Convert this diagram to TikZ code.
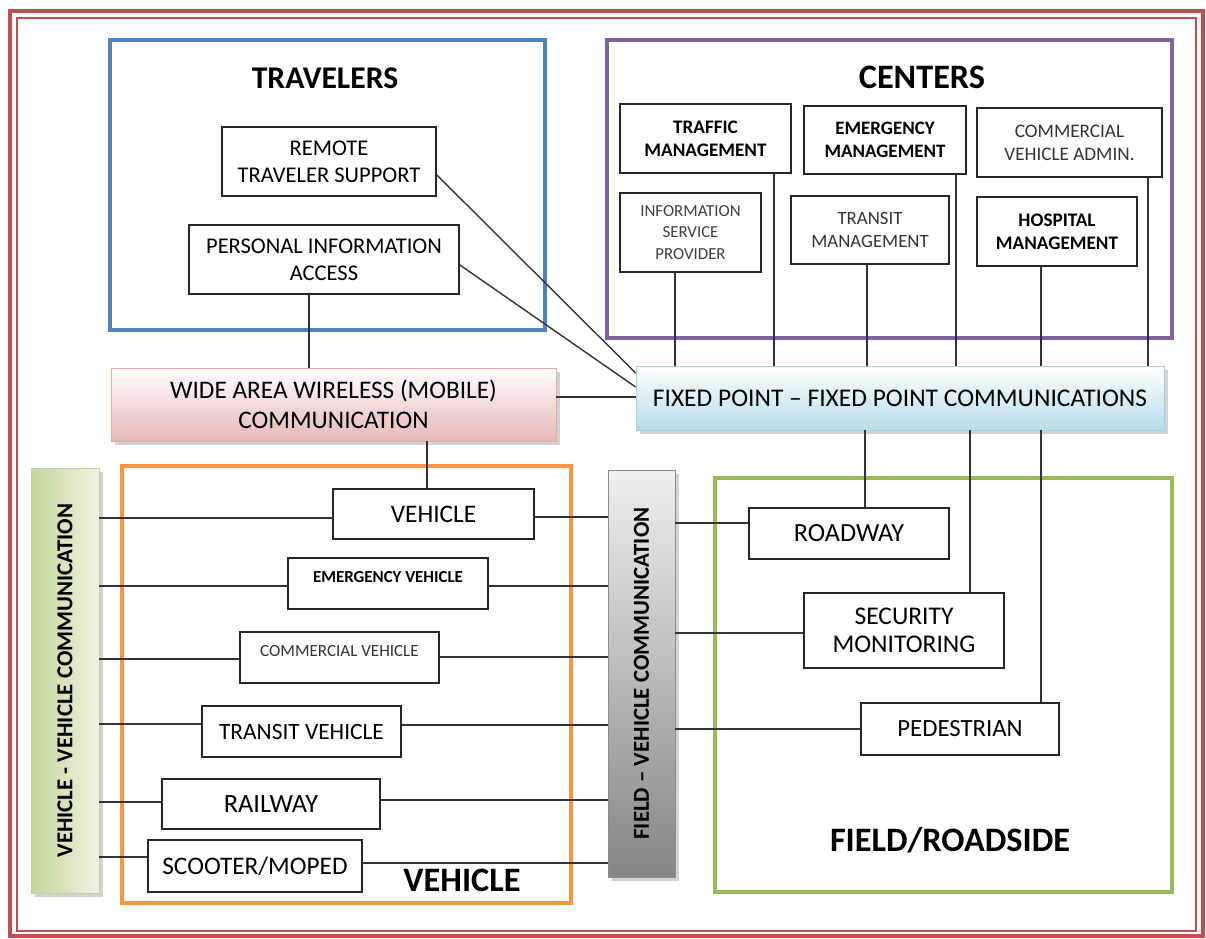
\documentclass[tikz,border=0pt]{standalone}
\usepackage{fontspec}
\setmainfont{Carlito}
\usepackage{graphicx}
\usetikzlibrary{shadows}

\definecolor{frameRed}{RGB}{192,80,77}
\definecolor{travBlue}{RGB}{79,129,189}
\definecolor{centPurple}{RGB}{128,100,162}
\definecolor{vehOrange}{RGB}{247,150,70}
\definecolor{fieldGreen}{RGB}{155,187,89}
\definecolor{wawPink}{RGB}{229,184,183}
\definecolor{wawEdge}{RGB}{226,170,168}
\definecolor{fpBlue}{RGB}{183,221,232}
\definecolor{fpEdge}{RGB}{160,210,224}
\definecolor{vvGreen}{RGB}{195,214,155}
\definecolor{vvLight}{RGB}{238,243,226}

\begin{document}
\begin{tikzpicture}[x=0.02cm, y=-0.02cm,
    box/.style={draw=black!85, line width=1pt, fill=white, align=center, inner sep=1pt},
    wh/.style 2 args={minimum width=#1*0.02cm, minimum height=#2*0.02cm},
    grp/.style={draw=#1, line width=2.6pt},
    ttl/.style={font=\fontsize{19.5}{22}\selectfont\bfseries},
    lnk/.style={draw=black!80, line width=0.8pt},
    comm/.style={align=center, inner sep=1pt, drop shadow={shadow xshift=2pt, shadow yshift=-2pt, opacity=0.35}},
    bar/.style={comm, font=\fontsize{13}{15}\selectfont\bfseries}
]
\useasboundingbox (0,0) rectangle (1206,939);
\draw[frameRed, line width=2.8pt] (10,11) rectangle (1203,936);
\draw[frameRed, line width=1pt] (17,18) rectangle (1196,931);

% group frames
\node[grp=travBlue, wh={435}{290}] (trav) at (327.5,185) {};
\node[grp=centPurple, wh={565}{298}] (cent) at (889.5,189) {};
\node[grp=vehOrange, wh={449}{437}] (vehg) at (346.5,684.5) {};
\node[grp=fieldGreen, wh={457}{414}] (field) at (943.5,685) {};

\node[ttl, font=\fontsize{18}{21}\selectfont\bfseries] (travt) at (325,78) {TRAVELERS};
\node[ttl] (centt) at (922,77) {CENTERS};
\node[ttl] (veht) at (462,880) {VEHICLE};
\node[ttl] (fieldt) at (950,840) {FIELD/ROADSIDE};

% travelers
\node[box, wh={214}{69}, font=\fontsize{12.8}{15.4}\selectfont] (rts) at (329,161.5) {REMOTE\\TRAVELER SUPPORT};
\node[box, wh={270}{69}, font=\fontsize{12.8}{15.4}\selectfont] (pia) at (324,259.5) {PERSONAL INFORMATION\\ACCESS};

% centers
\node[box, wh={171}{69}, font=\fontsize{10.9}{13}\selectfont\bfseries] (tm) at (705.5,138.5) {TRAFFIC\\MANAGEMENT};
\node[box, wh={162}{68}, font=\fontsize{10.8}{13}\selectfont\bfseries] (em) at (885,140) {EMERGENCY\\MANAGEMENT};
\node[box, wh={185}{69}, font=\fontsize{10.9}{13}\selectfont, text=black!80] (cva) at (1069.5,142.5) {COMMERCIAL\\VEHICLE ADMIN.};
\node[box, wh={141}{79}, font=\fontsize{9.6}{12.2}\selectfont, text=black!75] (isp) at (690.5,232.5) {INFORMATION\\SERVICE\\PROVIDER};
\node[box, wh={158}{68}, font=\fontsize{10.7}{13}\selectfont, text=black!80] (trm) at (870,230) {TRANSIT\\MANAGEMENT};
\node[box, wh={160}{69}, font=\fontsize{10.9}{13}\selectfont\bfseries] (hm) at (1057,231.5) {HOSPITAL\\MANAGEMENT};

% communications
\node[comm, draw=wawEdge, top color=white, bottom color=wawPink, wh={445}{73}, font=\fontsize{14.4}{17}\selectfont] (waw) at (333.5,404.5) {WIDE AREA WIRELESS (MOBILE)\\COMMUNICATION};
\node[comm, draw=fpEdge, top color=white, bottom color=fpBlue, wh={528}{64}, font=\fontsize{14.5}{17}\selectfont] (fp) at (900,398) {FIXED POINT -- FIXED POINT COMMUNICATIONS};
\node[bar, draw=vvGreen!80!black!60, left color=vvGreen, right color=vvLight, wh={68}{425}] (v2v) at (65,680.5) {\rotatebox{90}{VEHICLE - VEHICLE COMMUNICATION}};
\node[bar, draw=black!45, top color=black!6, bottom color=black!48, wh={67}{407}] (f2v) at (641.5,673.5) {\rotatebox{90}{FIELD -- VEHICLE COMMUNICATION}};

% vehicles
\node[box, wh={201}{50}, font=\fontsize{14.4}{17}\selectfont] (veh) at (433.5,514) {VEHICLE};
\node[box, wh={200}{51}, text depth=7pt, font=\fontsize{9.6}{11}\selectfont\bfseries] (ev) at (388,583.5) {EMERGENCY VEHICLE};
\node[box, wh={199}{51}, text depth=7pt, font=\fontsize{9.7}{11}\selectfont, text=black!80] (cv) at (339.5,657.5) {COMMERCIAL VEHICLE};
\node[box, wh={199}{51}, font=\fontsize{13.3}{16}\selectfont] (tv) at (301.5,731.5) {TRANSIT VEHICLE};
\node[box, wh={218}{50}, font=\fontsize{15}{17}\selectfont] (rw) at (271,804) {RAILWAY};
\node[box, wh={214}{52}, font=\fontsize{14.4}{17}\selectfont] (sm) at (255,866) {SCOOTER/MOPED};

% field
\node[box, wh={200}{51}, font=\fontsize{14.9}{17}\selectfont] (road) at (849,533.5) {ROADWAY};
\node[box, wh={200}{75}, font=\fontsize{14.5}{16}\selectfont] (sec) at (904,630.5) {SECURITY\\MONITORING};
\node[box, wh={198}{52}, font=\fontsize{14.1}{17}\selectfont] (ped) at (960,729) {PEDESTRIAN};

% links to fixed point
\draw[lnk] ([yshift=-0.27cm]rts.east) -- ([yshift=0.50cm]fp.west);
\draw[lnk] ([yshift=-0.11cm]pia.east) -- ([yshift=0.22cm]fp.west);
\draw[lnk] ([yshift=0.15cm]waw.east) coordinate (t) -- (t -| fp.west);
\draw[lnk] ([xshift=-0.31cm]isp.south) coordinate (t) -- (t |- fp.north);
\draw[lnk] ([xshift=1.37cm]tm.south) coordinate (t) -- (t |- fp.north);
\draw[lnk] ([xshift=-0.06cm]trm.south) coordinate (t) -- (t |- fp.north);
\draw[lnk] ([xshift=1.42cm]em.south) coordinate (t) -- (t |- fp.north);
\draw[lnk] ([xshift=-0.32cm]hm.south) coordinate (t) -- (t |- fp.north);
\draw[lnk] ([xshift=1.57cm]cva.south) coordinate (t) -- (t |- fp.north);
\draw[lnk] ([xshift=-0.70cm]fp.south) coordinate (t) -- (t |- road.north);
\draw[lnk] ([xshift=1.40cm]fp.south) coordinate (t) -- (t |- sec.north);
\draw[lnk] ([xshift=2.82cm]fp.south) coordinate (t) -- (t |- ped.north);

% links to wide area
\draw[lnk] ([xshift=-0.30cm]pia.south) coordinate (t) -- (t |- waw.north);
\draw[lnk] ([xshift=1.87cm]waw.south) coordinate (t) -- (t |- veh.north);

% vehicle - vehicle
\draw[lnk] ([yshift=-0.08cm]veh.west) coordinate (t) -- (t -| v2v.east);
\draw[lnk] ([yshift=-0.05cm]ev.west) coordinate (t) -- (t -| v2v.east);
\draw[lnk] ([yshift=-0.03cm]cv.west) coordinate (t) -- (t -| v2v.east);
\draw[lnk] ([yshift=0.15cm]tv.west) coordinate (t) -- (t -| v2v.east);
\draw[lnk] ([yshift=0.04cm]rw.west) coordinate (t) -- (t -| v2v.east);
\draw[lnk] ([yshift=0.18cm]sm.west) coordinate (t) -- (t -| v2v.east);

% field - vehicle
\draw[lnk] ([yshift=-0.06cm]veh.east) coordinate (t) -- (t -| f2v.west);
\draw[lnk] ([yshift=-0.05cm]ev.east) coordinate (t) -- (t -| f2v.west);
\draw[lnk] ([yshift=0.01cm]cv.east) coordinate (t) -- (t -| f2v.west);
\draw[lnk] ([yshift=0.13cm]tv.east) coordinate (t) -- (t -| f2v.west);
\draw[lnk] ([yshift=0.08cm]rw.east) coordinate (t) -- (t -| f2v.west);
\draw[lnk] ([yshift=0.06cm]sm.east) coordinate (t) -- (t -| f2v.west);
\draw[lnk] ([yshift=0.21cm]road.west) coordinate (t) -- (t -| f2v.east);
\draw[lnk] ([yshift=-0.05cm]sec.west) coordinate (t) -- (t -| f2v.east);
\draw[lnk] (ped.west) coordinate (t) -- (t -| f2v.east);
\end{tikzpicture}
\end{document}
